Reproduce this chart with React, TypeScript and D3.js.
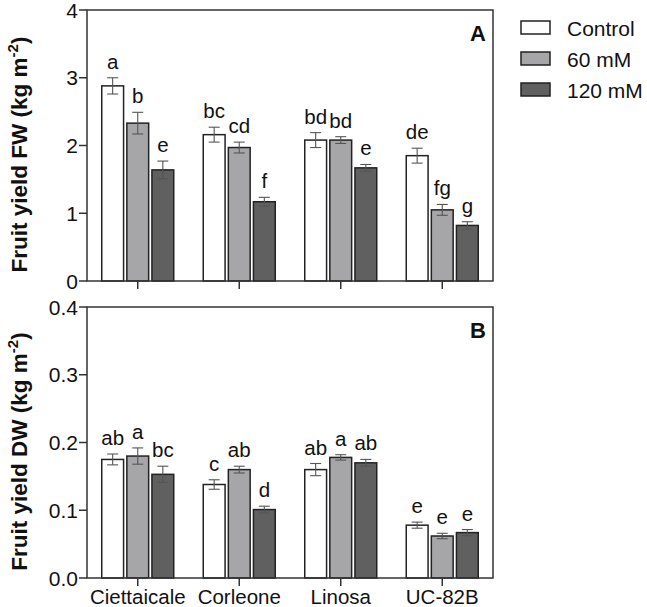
import React from "react";
import * as d3 from "d3";

const cultivars = ["Ciettaicale", "Corleone", "Linosa", "UC-82B"];
const treatments = ["Control", "60 mM", "120 mM"];
const treatmentColors = ["#ffffff", "#a6a6a9", "#606060"];

const fwControl = [2.88, 2.16, 2.08, 1.85];
const fw60 = [2.33, 1.97, 2.08, 1.05];
const fw120 = [1.64, 1.17, 1.67, 0.82];
const fwErrControl = [0.12, 0.11, 0.11, 0.11];
const fwErr60 = [0.16, 0.08, 0.05, 0.08];
const fwErr120 = [0.13, 0.065, 0.05, 0.055];
const fwLettersControl = ["a", "bc", "bd", "de"];
const fwLetters60 = ["b", "cd", "bd", "fg"];
const fwLetters120 = ["e", "f", "e", "g"];

const dwControl = [0.175, 0.138, 0.16, 0.078];
const dw60 = [0.18, 0.16, 0.178, 0.062];
const dw120 = [0.153, 0.101, 0.17, 0.067];
const dwErrControl = [0.008, 0.007, 0.009, 0.0045];
const dwErr60 = [0.012, 0.005, 0.004, 0.004];
const dwErr120 = [0.012, 0.005, 0.005, 0.0045];
const dwLettersControl = ["ab", "c", "ab", "e"];
const dwLetters60 = ["a", "ab", "a", "e"];
const dwLetters120 = ["bc", "d", "ab", "e"];

const fwTicks = [0, 1, 2, 3, 4];
const dwTicks = [0, 0.1, 0.2, 0.3, 0.4];

const FONT = "'Liberation Sans', Arial, Helvetica, sans-serif";

type PanelProps = {
  top: number;
  bottom: number;
  domainMax: number;
  ticks: number[];
  tickFmt: (v: number) => string;
  values: number[][];
  errors: number[][];
  letters: string[][];
  panelLabel: string;
  yLabel: string;
  showXLabels: boolean;
};

const left = 87;
const right = 493;

function Panel(p: PanelProps) {
  const x = d3.scaleBand<string>().domain(cultivars).range([left, right]).padding(0);
  const y = d3.scaleLinear().domain([0, p.domainMax]).range([p.bottom, p.top]);
  const inner = d3
    .scaleBand<string>()
    .domain(treatments)
    .range([-36, 36])
    .paddingInner(0.13)
    .paddingOuter(0);
  const bw = inner.bandwidth();
  const axisColor = "#333";
  const midY = (p.top + p.bottom) / 2 + 9;
  return (
    <g>
      {cultivars.map((c, ci) => (
        <g key={c} transform={`translate(${x(c)! + x.bandwidth() / 2},0)`}>
          {treatments.map((t, ti) => {
            const v = p.values[ti][ci];
            const e = p.errors[ti][ci];
            const bx = inner(t)!;
            const cx = bx + bw / 2;
            return (
              <g key={t}>
                <rect
                  x={bx}
                  y={y(v)}
                  width={bw}
                  height={y(0) - y(v)}
                  fill={treatmentColors[ti]}
                  stroke="#222"
                  strokeWidth={1.5}
                />
                <line x1={cx} x2={cx} y1={y(v + e)} y2={y(v - e)} stroke="#555" strokeWidth={1.1} />
                <line x1={cx - 5.5} x2={cx + 5.5} y1={y(v + e)} y2={y(v + e)} stroke="#555" strokeWidth={1.1} />
                <line x1={cx - 5.5} x2={cx + 5.5} y1={y(v - e)} y2={y(v - e)} stroke="#555" strokeWidth={1.1} />
                <text
                  x={cx}
                  y={y(v + e) - 9}
                  textAnchor="middle"
                  fontSize={20.5}
                  fontFamily={FONT}
                  fill="#111"
                >
                  {p.letters[ti][ci]}
                </text>
              </g>
            );
          })}
        </g>
      ))}
      <rect
        x={left}
        y={p.top}
        width={right - left}
        height={p.bottom - p.top}
        fill="none"
        stroke={axisColor}
        strokeWidth={1.5}
      />
      {p.ticks.map((t) => (
        <g key={t}>
          <line x1={left - 8} x2={left} y1={y(t)} y2={y(t)} stroke={axisColor} strokeWidth={1.5} />
          <text
            x={left - 9}
            y={y(t)}
            dy="0.36em"
            textAnchor="end"
            fontSize={21}
            fontFamily={FONT}
            fill="#111"
          >
            {p.tickFmt(t)}
          </text>
        </g>
      ))}
      {cultivars.map((c) => {
        const cx = x(c)! + x.bandwidth() / 2;
        return (
          <g key={c}>
            <line x1={cx} x2={cx} y1={p.bottom} y2={p.bottom + 8} stroke={axisColor} strokeWidth={1.5} />
            {p.showXLabels && (
              <text
                x={cx}
                y={p.bottom + 26}
                textAnchor="middle"
                fontSize={20.5}
                fontFamily={FONT}
                fill="#111"
              >
                {c}
              </text>
            )}
          </g>
        );
      })}
      <text
        x={right - 7}
        y={p.top + 31}
        textAnchor="end"
        fontSize={22}
        fontWeight="bold"
        fontFamily={FONT}
        fill="#111"
      >
        {p.panelLabel}
      </text>
      <text
        transform={`translate(27,${midY}) rotate(-90)`}
        textAnchor="middle"
        fontSize={22.5}
        fontWeight="bold"
        fontFamily={FONT}
        fill="#111"
      >
        {p.yLabel}
        <tspan fontSize={15} dy={-9}>-2</tspan>
        <tspan dy={9}>)</tspan>
      </text>
    </g>
  );
}

export default function App() {
  return (
    <svg
      width={647}
      height={607}
      style={{ position: "absolute", left: 0, top: 0, background: "#fff" }}
    >
      <rect x={0} y={0} width={647} height={607} fill="#fff" />
      <Panel
        top={10}
        bottom={281}
        domainMax={4}
        ticks={fwTicks}
        tickFmt={(v) => d3.format("d")(v)}
        values={[fwControl, fw60, fw120]}
        errors={[fwErrControl, fwErr60, fwErr120]}
        letters={[fwLettersControl, fwLetters60, fwLetters120]}
        panelLabel="A"
        yLabel="Fruit yield FW (kg m"
        showXLabels={false}
      />
      <Panel
        top={307}
        bottom={578}
        domainMax={0.4}
        ticks={dwTicks}
        tickFmt={(v) => d3.format(".1f")(v)}
        values={[dwControl, dw60, dw120]}
        errors={[dwErrControl, dwErr60, dwErr120]}
        letters={[dwLettersControl, dwLetters60, dwLetters120]}
        panelLabel="B"
        yLabel="Fruit yield DW (kg m"
        showXLabels={true}
      />
      {treatments.map((t, i) => (
        <g key={t} transform={`translate(521,${21 + i * 31})`}>
          <rect x={0} y={0} width={29} height={13} fill={treatmentColors[i]} stroke="#222" strokeWidth={1.5} />
          <text x={46} y={15} fontSize={21} fontFamily={FONT} fill="#111">
            {t}
          </text>
        </g>
      ))}
    </svg>
  );
}
